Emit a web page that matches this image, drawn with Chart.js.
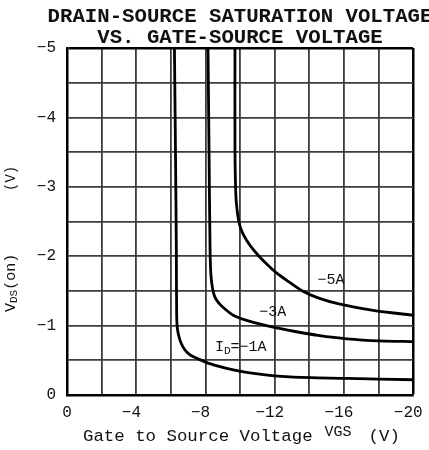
<!DOCTYPE html>
<html>
<head>
<meta charset="utf-8">
<script src="https://cdn.jsdelivr.net/npm/chart.js@4.4.1/dist/chart.umd.min.js"></script>
<style>
  body { margin: 0; background: #fff; }
  canvas { display: block; }
</style>
</head>
<body>
<canvas id="vdsChart" width="429" height="450"></canvas>
<script>
// VDS(on) vs VGS, one curve per drain current
const vgs1A = [-6.21, -6.27, -6.32, -6.34, -6.39, -6.53, -6.71, -6.92, -7.17, -7.5, -8.15, -9.23, -10.58, -12.89, -16.17, -20];
const vds1A = [-5.0, -3.53, -2.09, -1.15, -0.94, -0.79, -0.69, -0.62, -0.57, -0.53, -0.46, -0.385, -0.32, -0.26, -0.24, -0.22];

const vgs3A = [-8.15, -8.21, -8.27, -8.32, -8.41, -8.55, -8.79, -9.08, -9.61, -10.58, -11.85, -13.18, -14.51, -16.18, -18.09, -20];
const vds3A = [-5.0, -3.53, -2.09, -1.73, -1.54, -1.41, -1.32, -1.25, -1.15, -1.06, -0.98, -0.915, -0.86, -0.81, -0.78, -0.77];

const vgs5A = [-9.71, -9.71, -9.76, -9.83, -9.94, -10.12, -10.38, -10.69, -11.1, -11.53, -12.05, -12.66, -13.53, -14.51, -15.78, -17.69, -20];
const vds5A = [-5.0, -3.53, -2.88, -2.67, -2.49, -2.35, -2.23, -2.12, -2.0, -1.89, -1.77, -1.66, -1.51, -1.40, -1.31, -1.22, -1.15];

const xTicks = [0, -4, -8, -12, -16, -20];
const xTickLabels = ['0', '−4', '−8', '−12', '−16', '−20'];
const yTicks = [0, -1, -2, -3, -4, -5];
const yTickLabels = ['0', '−1', '−2', '−3', '−4', '−5'];

// curve labels, placed in data units
const curveNames = ['−5A', '−3A', '=−1A'];
const labelVgs = [-15.26, -11.9, -8.55];
const labelVds = [-1.66, -1.2, -0.71];

const mono = '"Liberation Mono", "DejaVu Sans Mono", monospace';
const ink = '#111';

const toPoints = (xs, ys) => xs.map((x, i) => ({ x: x, y: ys[i] }));

function curve(xs, ys) {
  return {
    data: toPoints(xs, ys),
    showLine: true,
    borderColor: '#000',
    borderWidth: 2.8,
    pointRadius: 0,
    tension: 0.3,
    fill: false
  };
}

// draw a row of text pieces with their own sizes (for subscripts)
function drawRuns(ctx, runs, x, y, angle) {
  ctx.save();
  ctx.translate(x, y);
  ctx.rotate(angle || 0);
  ctx.textAlign = 'left';
  ctx.textBaseline = 'alphabetic';
  ctx.fillStyle = ink;
  let cx = 0;
  runs.forEach(r => {
    cx += r.gap || 0;
    ctx.font = (r.bold ? 'bold ' : '') + r.size + 'px ' + mono;
    ctx.fillText(r.text, cx, r.dy || 0);
    cx += ctx.measureText(r.text).width;
  });
  ctx.restore();
}

const textPlugin = {
  id: 'sheetText',
  beforeDraw(chart) {
    const ctx = chart.ctx;
    ctx.save();
    ctx.fillStyle = '#fff';
    ctx.fillRect(0, 0, chart.width, chart.height);
    ctx.restore();
  },
  afterDraw(chart) {
    const ctx = chart.ctx;
    const xs = chart.scales.x, ys = chart.scales.y;

    // title
    ctx.save();
    ctx.fillStyle = ink;
    ctx.textAlign = 'center';
    ctx.textBaseline = 'alphabetic';
    ctx.font = 'bold 20.7px ' + mono;
    ctx.fillText('DRAIN-SOURCE SATURATION VOLTAGE', 240, 22);
    ctx.fillText('VS. GATE-SOURCE VOLTAGE', 240, 43);
    ctx.restore();

    // x axis title
    drawRuns(ctx, [
      { text: 'Gate to Source Voltage', size: 17.4 },
      { text: 'VGS', size: 15, dy: -5, gap: 12 },
      { text: '(V)', size: 17.4, gap: 17 }
    ], 83, 441);

    // y axis title
    drawRuns(ctx, [
      { text: 'V', size: 15 },
      { text: 'DS', size: 11, dy: 2 },
      { text: '(on)', size: 15 }
    ], 15, 312, -Math.PI / 2);
    drawRuns(ctx, [{ text: '(V)', size: 14 }], 15, 191, -Math.PI / 2);

    // curve labels
    ctx.save();
    ctx.fillStyle = ink;
    ctx.font = '15px ' + mono;
    ctx.textBaseline = 'middle';
    ctx.textAlign = 'center';
    for (let i = 0; i < 2; i++) {
      ctx.fillText(curveNames[i], xs.getPixelForValue(labelVgs[i]), ys.getPixelForValue(labelVds[i]));
    }
    ctx.restore();
    const lx = xs.getPixelForValue(labelVgs[2]);
    const ly = ys.getPixelForValue(labelVds[2]) + 5;
    drawRuns(ctx, [
      { text: 'I', size: 15 },
      { text: 'D', size: 11, dy: 3 },
      { text: curveNames[2], size: 15 }
    ], lx, ly);
  }
};

const edge = (v, lim) => v === lim;

const config = {
  type: 'scatter',
  data: {
    datasets: [
      curve(vgs1A, vds1A),
      curve(vgs3A, vds3A),
      curve(vgs5A, vds5A)
    ]
  },
  options: {
    responsive: false,
    animation: false,
    layout: { padding: { top: 48, right: 16, left: 0, bottom: 0 } },
    plugins: {
      legend: { display: false },
      title: { display: false },
      tooltip: { enabled: false }
    },
    scales: {
      x: {
        type: 'linear',
        min: -20,
        max: 0,
        reverse: true,
        grid: {
          drawTicks: false,
          color: ctx => edge(ctx.tick.value, -20) ? '#000' : '#3c3c3c',
          lineWidth: ctx => edge(ctx.tick.value, -20) ? 2.5 : 1.8
        },
        border: { display: true, color: '#000', width: 2.5 },
        ticks: {
          stepSize: 2,
          autoSkip: false,
          maxRotation: 0,
          padding: 8,
          color: ink,
          font: { family: mono, size: 16 },
          callback: v => {
            const i = xTicks.indexOf(v);
            if (i < 0) return '';
            const s = xTickLabels[i];
            return s.startsWith('−') ? s + '\u00a0' : s;
          }
        },
        afterFit: s => { s.height = 55; s.paddingLeft = 0; s.paddingRight = 0; }
      },
      y: {
        type: 'linear',
        min: -5,
        max: 0,
        reverse: true,
        grid: {
          drawTicks: false,
          color: ctx => edge(ctx.tick.value, -5) ? '#000' : '#3c3c3c',
          lineWidth: ctx => edge(ctx.tick.value, -5) ? 2.5 : 1.8
        },
        border: { display: true, color: '#000', width: 2.5 },
        ticks: {
          stepSize: 0.5,
          autoSkip: false,
          padding: 11,
          color: ink,
          font: { family: mono, size: 16 },
          callback: v => {
            const i = yTicks.indexOf(v);
            return i < 0 ? '' : yTickLabels[i];
          }
        },
        afterFit: s => { s.width = 67; s.paddingTop = 0; s.paddingBottom = 0; }
      }
    }
  },
  plugins: [textPlugin]
};

window.addEventListener('load', () => {
  const ctx = document.getElementById('vdsChart').getContext('2d');
  new Chart(ctx, config);
});
</script>
</body>
</html>
